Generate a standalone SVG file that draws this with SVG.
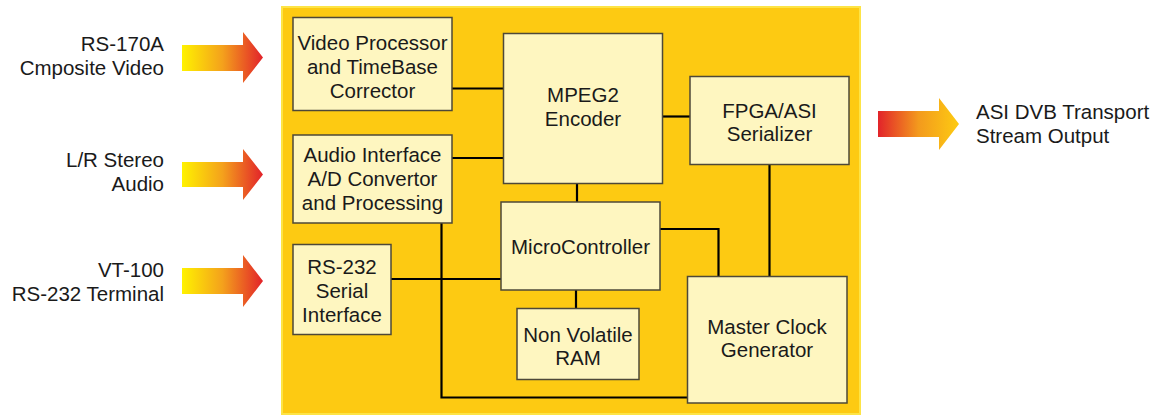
<svg xmlns="http://www.w3.org/2000/svg" width="1156" height="416" viewBox="0 0 1156 416">
<defs>
<linearGradient id="gin" x1="0" y1="0" x2="1" y2="0">
<stop offset="0" stop-color="#fff200"/>
<stop offset="0.5" stop-color="#f4a11c"/>
<stop offset="1" stop-color="#e2222a"/>
</linearGradient>
<linearGradient id="gout" x1="0" y1="0" x2="1" y2="0">
<stop offset="0" stop-color="#e2232a"/>
<stop offset="0.5" stop-color="#f39a1d"/>
<stop offset="1" stop-color="#fdcb12"/>
</linearGradient>
<style>
text{font-family:"Liberation Sans",Arial,sans-serif;font-size:20.5px;fill:#1a1a1a}
.c{text-anchor:middle}
.r{text-anchor:end}
.box{fill:#fef6c0;stroke:#4d4838;stroke-width:1.5}
.ln{fill:none;stroke:#000;stroke-width:2.2}
</style>
</defs>
<rect x="0" y="0" width="1156" height="416" fill="#fff"/>
<rect x="282" y="7" width="578" height="407" fill="#fdca12" stroke="#fde446" stroke-width="2"/>

<g id="arrows">
<path d="M182,45 H243 V32 L263,57.5 L243,83 V71 H182 Z" fill="url(#gin)"/>
<path d="M182,162 H243 V149 L263,174.5 L243,200 V187 H182 Z" fill="url(#gin)"/>
<path d="M182,268 H243 V255 L263,281 L243,307 V294 H182 Z" fill="url(#gin)"/>
<path d="M878,111 H939 V98 L959,124 L939,150 V137 H878 Z" fill="url(#gout)"/>
</g>

<g id="labels">
<text class="r" x="164" y="51">RS-170A</text>
<text class="r" x="164" y="75">Cmposite Video</text>
<text class="r" x="164" y="167">L/R Stereo</text>
<text class="r" x="164" y="191">Audio</text>
<text class="r" x="164" y="277">VT-100</text>
<text class="r" x="164" y="301">RS-232 Terminal</text>
<text x="976" y="119">ASI DVB Transport</text>
<text x="976" y="143">Stream Output</text>
</g>

<g id="connectors">
<line class="ln" x1="452" y1="88.5" x2="503" y2="88.5"/>
<line class="ln" x1="452" y1="158" x2="503" y2="158"/>
<line class="ln" x1="663" y1="116.5" x2="690" y2="116.5"/>
<line class="ln" x1="577" y1="183" x2="577" y2="202"/>
<line class="ln" x1="769.5" y1="164" x2="769.5" y2="276"/>
<polyline class="ln" points="660,229 718.5,229 718.5,276"/>
<line class="ln" x1="576" y1="290" x2="576" y2="308"/>
<polyline class="ln" points="441.5,223 441.5,397.5 687,397.5"/>
<line class="ln" x1="391" y1="279" x2="501" y2="279"/>
</g>

<g id="video">
<rect class="box" x="293" y="17.5" width="159" height="93"/>
<text class="c" x="372.5" y="50">Video Processor</text>
<text class="c" x="372.5" y="73.5">and TimeBase</text>
<text class="c" x="372.5" y="97.5">Corrector</text>
</g>
<g id="audio">
<rect class="box" x="293" y="135" width="159" height="88"/>
<text class="c" x="372.5" y="162">Audio Interface</text>
<text class="c" x="372.5" y="186">A/D Convertor</text>
<text class="c" x="372.5" y="209.5">and Processing</text>
</g>
<g id="rs232">
<rect class="box" x="293" y="244.5" width="98" height="90"/>
<text class="c" x="342" y="273.5">RS-232</text>
<text class="c" x="342" y="297.5">Serial</text>
<text class="c" x="342" y="321.5">Interface</text>
</g>
<g id="mpeg2">
<rect class="box" x="503.5" y="33.5" width="159" height="150"/>
<text class="c" x="583" y="102">MPEG2</text>
<text class="c" x="583" y="126">Encoder</text>
</g>
<g id="fpga">
<rect class="box" x="690" y="76.5" width="159" height="88"/>
<text class="c" x="769.5" y="117.5">FPGA/ASI</text>
<text class="c" x="769.5" y="140.5">Serializer</text>
</g>
<g id="micro">
<rect class="box" x="501" y="202" width="159" height="88"/>
<text class="c" x="580.5" y="253.5">MicroController</text>
</g>
<g id="nvram">
<rect class="box" x="517" y="308.5" width="122" height="71"/>
<text class="c" x="578" y="342">Non Volatile</text>
<text class="c" x="578" y="365">RAM</text>
</g>
<g id="clock">
<rect class="box" x="687.5" y="276.5" width="159.5" height="126.5"/>
<text class="c" x="767" y="333.5">Master Clock</text>
<text class="c" x="767" y="357">Generator</text>
</g>
</svg>
